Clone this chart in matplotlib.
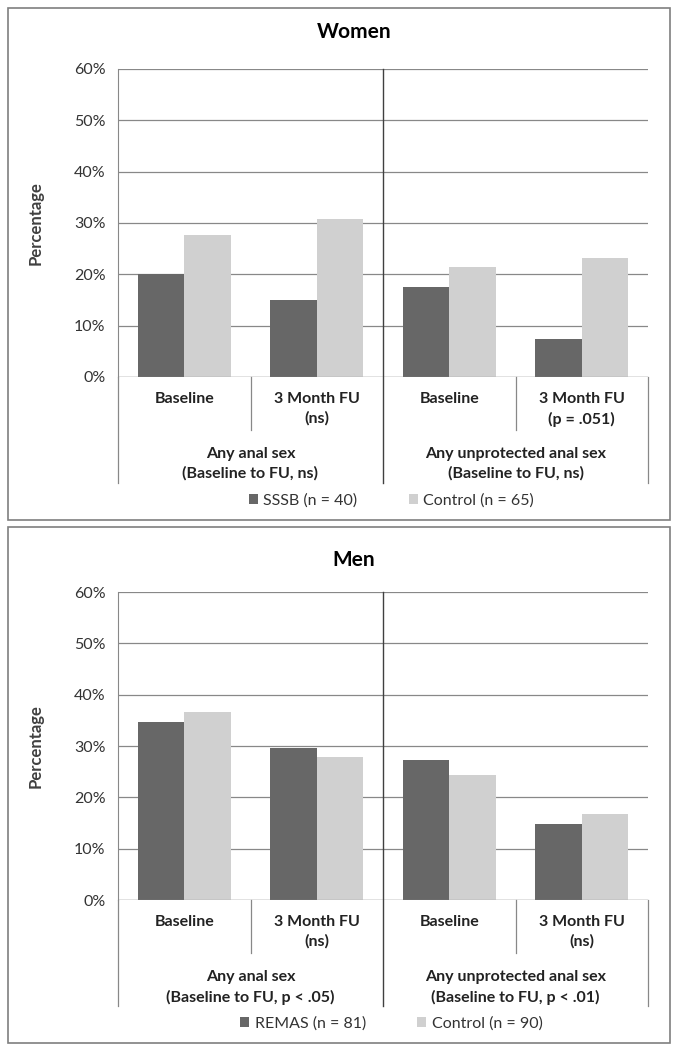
import matplotlib
matplotlib.use('Agg')
import matplotlib.pyplot as plt
from matplotlib.patches import Rectangle
import numpy as np

plt.rcParams['font.family'] = ['Lato', 'DejaVu Sans']

categories = ['Baseline', '3 Month FU\n(ns)', 'Baseline', '3 Month FU\n(p = .051)']
groups = ['Any anal sex\n(Baseline to FU, ns)', 'Any unprotected anal sex\n(Baseline to FU, ns)']
women_sssb = [20.0, 15.0, 17.5, 7.5]
women_control = [27.7, 30.8, 21.5, 23.1]

men_categories = ['Baseline', '3 Month FU\n(ns)', 'Baseline', '3 Month FU\n(ns)']
men_groups = ['Any anal sex\n(Baseline to FU, p < .05)', 'Any unprotected anal sex\n(Baseline to FU, p < .01)']
men_remas = [34.6, 29.6, 27.2, 14.8]
men_control = [36.7, 27.8, 24.4, 16.7]

yticks = [0, 10, 20, 30, 40, 50, 60]
ytick_labels = ['0%', '10%', '20%', '30%', '40%', '50%', '60%']

dark = '#676767'
light = '#d0d0d0'
W, H = 678, 1050

fig = plt.figure(figsize=(W / 100, H / 100), dpi=100)

# panel frames
for y0, y1 in [(8, 520), (527, 1043)]:
    fig.patches.append(Rectangle((8 / W, 1 - y1 / H), 662 / W, (y1 - y0) / H,
                                 transform=fig.transFigure, fill=False,
                                 edgecolor='#7f7f7f', linewidth=1.2))


def panel(top, title, title_y, cats, grps, s1, s2, names):
    bottom = top + 308
    ax = fig.add_axes([118 / W, 1 - bottom / H, 530 / W, 308 / H])
    x = np.arange(len(cats))
    ax.bar(x - 0.175, s1, width=0.35, color=dark, zorder=3, label=names[0])
    ax.bar(x + 0.175, s2, width=0.35, color=light, zorder=3, label=names[1])
    ax.set_xlim(-0.5, 3.5)
    ax.set_ylim(0, 60)
    ax.set_yticks(yticks)
    ax.set_yticklabels(ytick_labels, fontsize=11.5, color='#333333')
    ax.tick_params(axis='y', length=0, pad=9)
    ax.set_xticks([])
    ax.grid(axis='y', color='#888888', linewidth=0.9, zorder=0)
    for s in ['top', 'right', 'bottom']:
        ax.spines[s].set_visible(False)
    ax.spines['left'].set_color('#888888')
    ax.axhline(0, color='#888888', linewidth=0.9, zorder=4)
    ax.set_ylabel('Percentage', fontsize=12, fontweight='bold', color='#404040', labelpad=22)

    tr = ax.get_xaxis_transform()
    # divider through plot and label area
    ax.plot([1.5, 1.5], [1.0, -0.344], color='#404040', linewidth=1.0, transform=tr, clip_on=False, zorder=5)
    for xv in [-0.5, 3.5]:
        ax.plot([xv, xv], [0, -0.344], color='#888888', linewidth=0.9, transform=tr, clip_on=False)
    for xv in [0.5, 2.5]:
        ax.plot([xv, xv], [0, -0.172], color='#888888', linewidth=0.9, transform=tr, clip_on=False)

    for xi, c in zip(x, cats):
        ax.text(xi, -0.05, c, transform=tr, ha='center', va='top', fontsize=11.5,
                fontweight='bold', color='#222222', linespacing=1.45)
    for gi, g in enumerate(grps):
        ax.text(gi * 2 + 0.5, -0.228, g, transform=tr, ha='center', va='top', fontsize=11.5,
                fontweight='bold', color='#222222', linespacing=1.45)

    ax.legend(loc='center', bbox_to_anchor=(0.516, -0.40), ncol=2, frameon=False,
              handlelength=0.55, handleheight=0.55, handletextpad=0.35,
              columnspacing=3.2, prop={'size': 11.5}, labelcolor='#333333')
    fig.text(354 / W, 1 - title_y / H, title, ha='center', va='center',
             fontsize=15, fontweight='bold')
    return ax


panel(69, 'Women', 32, categories, groups, women_sssb, women_control,
      ['SSSB (n = 40)', 'Control (n = 65)'])
panel(592, 'Men', 560, men_categories, men_groups, men_remas, men_control,
      ['REMAS (n = 81)', 'Control (n = 90)'])

fig.savefig('out.png', dpi=100)
